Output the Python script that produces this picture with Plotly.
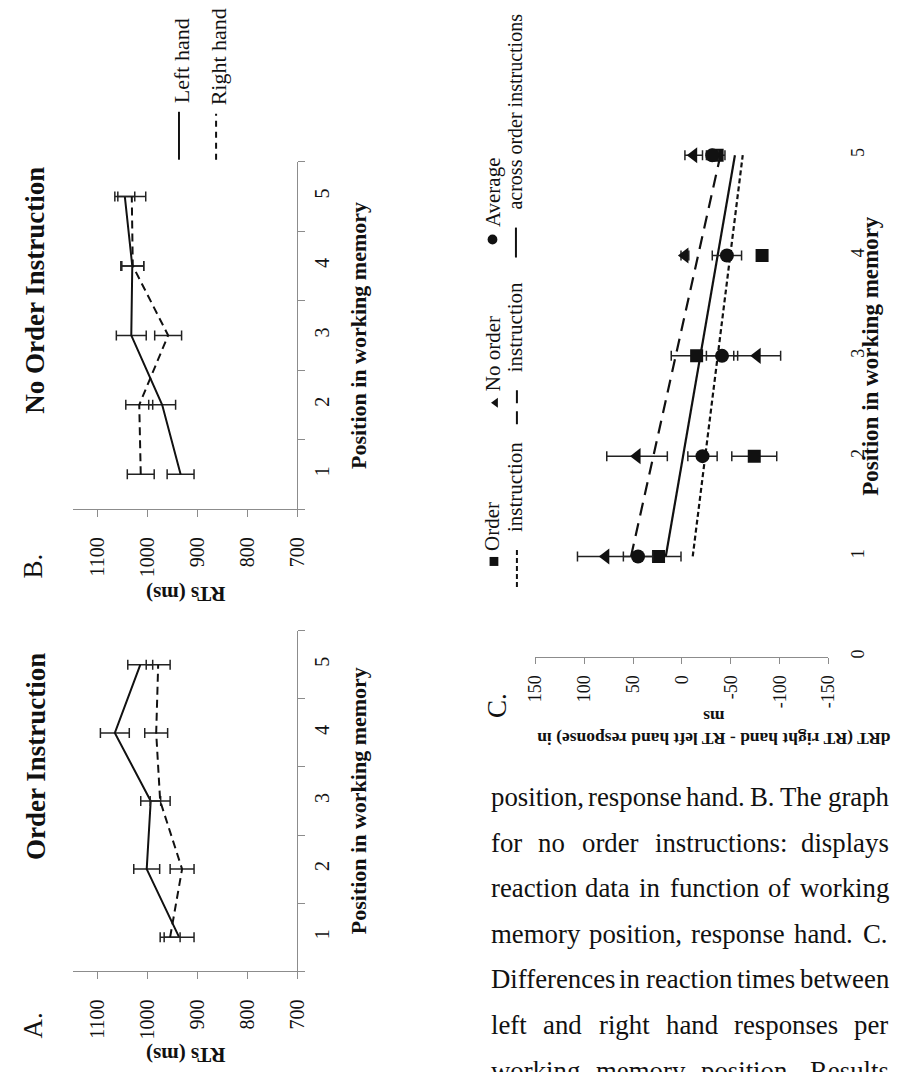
import plotly.graph_objects as go
import numpy as np

W, H = 902, 1072


def px(x):
    return x / W


def py(y):
    return 1 - y / H


# ---------------- data ----------------
positions = [1, 2, 3, 4, 5]
rt_ticks = [700, 800, 900, 1000, 1100]

# Panel A: Order Instruction (RTs in ms)
a_left = [937, 1002, 994, 1066, 1015]
a_left_err = [30, 26, 20, 29, 25]
a_right = [955, 931, 975, 983, 979]
a_right_err = [20, 24, 20, 23, 24]

# Panel B: No Order Instruction (RTs in ms)
b_left = [934, 971, 1033, 1031, 1046]
b_left_err = [27, 27, 30, 23, 20]
b_right = [1014, 1017, 959, 1030, 1032]
b_right_err = [27, 27, 27, 22, 28]

# Panel C: dRT (right - left) in ms
c_ticks = [150, 100, 50, 0, -50, -100, -150]
c_tick_text = ["150", "100", "50", "0", "-50", "-100", "-150"]
c_cat_labels = [0, 1, 2, 3, 4, 5]
c_order = [24, -74, -15, -82, -36]
c_order_err = [23, 23, 26, 4, 8]
c_noorder = [78, 46, -77, -3, -12]
c_noorder_err = [29, 31, 24, 4, 9]
c_avg = [45, -21, -41, -46, -31]
c_avg_err = [15, 15, 16, 15, 6]

caption_lines = [
    "position, response hand. B. The graph",
    "for no order instructions: displays",
    "reaction data in function of working",
    "memory position, response hand. C.",
    "Differences in reaction times between",
    "left and right hand responses per",
    "working memory position. Results",
]

# ---------------- styling ----------------
SERIF = "Liberation Serif, Times New Roman, serif"
AX = "#8c8c8c"
BLACK = "#111111"

fig = go.Figure()


def hand_traces(left, left_err, right, right_err, xa, ya):
    fig.add_trace(go.Scatter(
        x=left, y=positions, mode="lines", xaxis=xa, yaxis=ya,
        line=dict(color=BLACK, width=2),
        error_x=dict(type="data", array=left_err, color="#222222", thickness=1.5, width=5),
        showlegend=False, hoverinfo="skip"))
    fig.add_trace(go.Scatter(
        x=right, y=positions, mode="lines", xaxis=xa, yaxis=ya,
        line=dict(color=BLACK, width=2, dash="8px,5px"),
        error_x=dict(type="data", array=right_err, color="#222222", thickness=1.5, width=5),
        showlegend=False, hoverinfo="skip"))


hand_traces(a_left, a_left_err, a_right, a_right_err, "x", "y")
hand_traces(b_left, b_left_err, b_right, b_right_err, "x2", "y2")

# Panel C trend lines (linear fits of the plotted points)
pos_arr = np.array(positions, dtype=float)
ends = np.array([pos_arr.min(), pos_arr.max()])
for vals, dash in [(c_order, "5px,3px"), (c_noorder, "13px,8px"), (c_avg, "solid")]:
    k, b = np.polyfit(pos_arr, np.array(vals, dtype=float), 1)
    fig.add_trace(go.Scatter(
        x=k * ends + b, y=ends, mode="lines", xaxis="x3", yaxis="y3",
        line=dict(color=BLACK, width=2.2, dash=dash),
        showlegend=False, hoverinfo="skip"))

for vals, err, sym, size in [(c_order, c_order_err, "square", 13),
                             (c_noorder, c_noorder_err, "triangle-left", 14),
                             (c_avg, c_avg_err, "circle", 14)]:
    fig.add_trace(go.Scatter(
        x=vals, y=positions, mode="markers", xaxis="x3", yaxis="y3",
        marker=dict(symbol=sym, size=size, color=BLACK, line=dict(width=0)),
        error_x=dict(type="data", array=err, color="#222222", thickness=1.5, width=5),
        showlegend=False, hoverinfo="skip"))

tickfont_ab = dict(family=SERIF, size=20, color=BLACK)
tickfont_c = dict(family=SERIF, size=18, color=BLACK)


def rt_axis(dom_y_anchor):
    return dict(domain=[px(64.5), px(294)], range=[1150, 700], anchor=dom_y_anchor,
                showline=True, linecolor=AX, linewidth=1.4, ticks="outside", ticklen=7,
                tickcolor=AX, tickwidth=1.4, tickvals=rt_ticks, tickangle=-90,
                tickfont=tickfont_ab, showgrid=False, zeroline=False,
                ticklabelstandoff=12, fixedrange=True)


def pos_axis(domain_px, x_anchor):
    return dict(domain=[py(domain_px[1]), py(domain_px[0])], range=[0.5, 5.5], anchor=x_anchor,
                side="right", showline=True, linecolor=AX, linewidth=1.4,
                tickvals=positions, ticks="", tickangle=-90, tickfont=tickfont_ab,
                showgrid=False, zeroline=False, ticklabelstandoff=7,
                minor=dict(tickvals=[0.5, 1.5, 2.5, 3.5, 4.5, 5.5], ticks="outside",
                           ticklen=7, tickcolor=AX, tickwidth=1.4, showgrid=False),
                fixedrange=True)


layout = dict(
    width=W, height=H, autosize=False,
    margin=dict(l=0, r=0, t=0, b=0),
    paper_bgcolor="white", plot_bgcolor="white",
    showlegend=False,
    xaxis=rt_axis("y"),
    yaxis=pos_axis((632, 973), "x"),
    xaxis2=rt_axis("y2"),
    yaxis2=pos_axis((162, 510), "x2"),
    xaxis3=dict(domain=[px(538), px(838)], range=[150, -150], anchor="y3",
                showline=True, linecolor=AX, linewidth=1.4, ticks="outside", ticklen=6,
                tickcolor=AX, tickwidth=1.4, tickvals=c_ticks, ticktext=c_tick_text,
                tickangle=-90, tickfont=tickfont_c, showgrid=False, zeroline=False,
                ticklabelstandoff=4, fixedrange=True),
    yaxis3=dict(domain=[py(658), py(55)], range=[0, 6], anchor="x3", side="right",
                showline=False, ticks="", tickvals=c_cat_labels, tickangle=-90,
                tickfont=tickfont_c, showgrid=False, zeroline=False,
                ticklabelstandoff=16, fixedrange=True),
    yaxis4=dict(overlaying="y3", anchor="free", position=px(688), side="right",
                range=[0, 6], showline=True, linecolor=AX, linewidth=1.4,
                ticks="outside", ticklen=6, tickcolor=AX, tickwidth=1.4,
                tickvals=[0, 1, 2, 3, 4, 5, 6], showticklabels=False,
                showgrid=False, zeroline=False, fixedrange=True),
)

ann = []


def text(x, y, s, size, angle=0, xa="center", ya="middle", bold=False):
    ann.append(dict(x=px(x), y=py(y), xref="paper", yref="paper", text=("<b>%s</b>" % s) if bold else s,
                    showarrow=False, textangle=angle, xanchor=xa, yanchor=ya, borderpad=0,
                    font=dict(family=SERIF, size=size, color=BLACK)))


# titles and panel letters
text(26, 758, "Order Instruction", 27, -90, bold=True)
text(26, 291, "No Order Instruction", 27, -90, bold=True)
text(24, 1027, "A.", 27, -90)
text(23, 567, "B.", 27, -90)
text(498, 707, "C.", 27, -90)
text(180, 1057, "RTs (ms)", 21, 180, bold=True)
text(180, 595, "RTs (ms)", 21, 180, bold=True)
text(357, 802, "Position in working memory", 22, -90, bold=True)
text(357, 336, "Position in working memory", 22, -90, bold=True)
text(881, 356, "Position in working memory", 23, -90, bold=True)
text(720, 729, "dRT (RT right hand - RT left hand response) in<br>ms", 17.5, 180, bold=True)

# legend B
shapes = [
    dict(type="line", xref="paper", yref="paper", x0=px(173), x1=px(173), y0=py(160), y1=py(112),
         line=dict(color=BLACK, width=2)),
    dict(type="line", xref="paper", yref="paper", x0=px(211), x1=px(211), y0=py(160), y1=py(114),
         line=dict(color=BLACK, width=2, dash="6px,5px")),
]
text(175, 104, "Left hand", 22, -90, ya="bottom")
text(213, 107, "Right hand", 22, -90, ya="bottom")

# legend C
shapes += [
    dict(type="rect", xref="paper", yref="paper", x0=px(491), x1=px(500), y0=py(567), y1=py(558),
         fillcolor=BLACK, line=dict(width=0)),
    dict(type="path", xref="paper", yref="paper",
         path="M %f %f L %f %f L %f %f Z" % (px(492.5), py(403.5), px(499.5), py(398.5), px(499.5), py(408.5)),
         fillcolor=BLACK, line=dict(width=0)),
    dict(type="circle", xref="paper", yref="paper", x0=px(489), x1=px(499), y0=py(245), y1=py(235),
         fillcolor=BLACK, line=dict(width=0)),
    dict(type="line", xref="paper", yref="paper", x0=px(519), x1=px(519), y0=py(588), y1=py(548),
         line=dict(color=BLACK, width=2, dash="5px,3px")),
    dict(type="line", xref="paper", yref="paper", x0=px(519), x1=px(519), y0=py(425), y1=py(383),
         line=dict(color=BLACK, width=2, dash="13px,8px")),
    dict(type="line", xref="paper", yref="paper", x0=px(518), x1=px(518), y0=py(258), y1=py(228),
         line=dict(color=BLACK, width=2)),
]
text(494, 553, "Order", 21, -90, ya="bottom")
text(517, 534, "instruction", 21, -90, ya="bottom")
text(494, 393, "No order", 21, -90, ya="bottom")
text(517, 374, "instruction", 21, -90, ya="bottom")
text(494, 228, "Average", 21, -90, ya="bottom")
text(517, 211, "across order instructions", 20, -90, ya="bottom")

# caption, justified using Times metrics
TIMES = {' ': 250, ',': 250, '-': 333, '.': 250, ':': 278, ';': 278,
         'A': 722, 'B': 667, 'C': 667, 'D': 722, 'E': 611, 'F': 556, 'G': 722, 'H': 722, 'I': 333,
         'J': 389, 'K': 722, 'L': 611, 'M': 889, 'N': 722, 'O': 722, 'P': 556, 'Q': 722, 'R': 667,
         'S': 556, 'T': 611, 'U': 722, 'V': 722, 'W': 944, 'X': 722, 'Y': 722, 'Z': 611,
         'a': 444, 'b': 500, 'c': 444, 'd': 500, 'e': 444, 'f': 333, 'g': 500, 'h': 500, 'i': 278,
         'j': 278, 'k': 500, 'l': 278, 'm': 778, 'n': 500, 'o': 500, 'p': 500, 'q': 500, 'r': 333,
         's': 389, 't': 278, 'u': 500, 'v': 500, 'w': 722, 'x': 500, 'y': 500, 'z': 444}
CAP_SIZE = 26.8
CAP_L, CAP_R = 491, 897


def tw(s):
    return sum(TIMES.get(c, 500) for c in s) * CAP_SIZE / 1000.0


for i, line in enumerate(caption_lines):
    ymid = 798.5 + i * 45.7
    words = line.split()
    total = sum(tw(w) for w in words)
    gap = (CAP_R - CAP_L - total) / (len(words) - 1)
    x = CAP_L
    for w in words:
        text(x, ymid, w, CAP_SIZE, 0, xa="left")
        x += tw(w) + gap

layout["annotations"] = ann
layout["shapes"] = shapes
fig.update_layout(**layout)
fig.write_html("out.html")
